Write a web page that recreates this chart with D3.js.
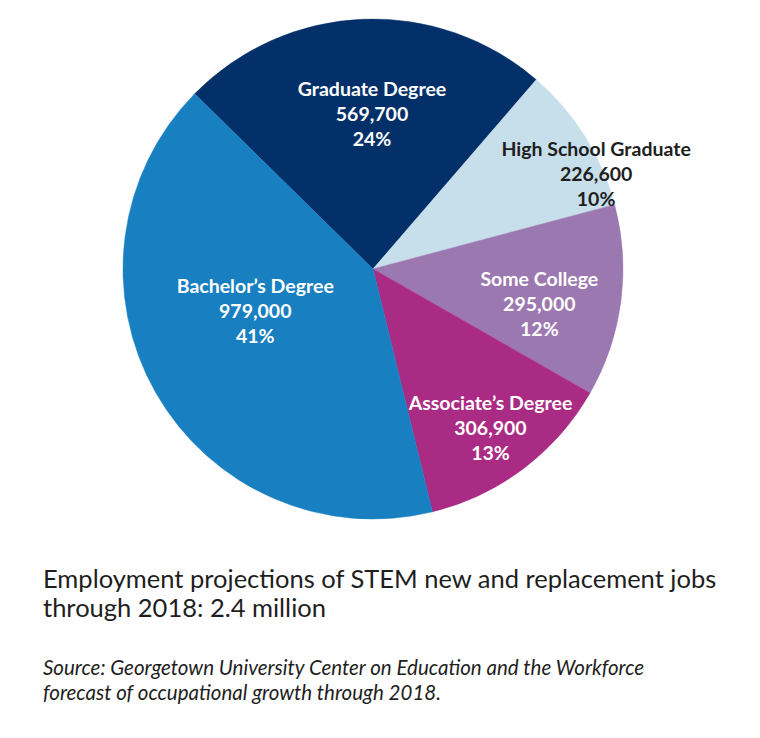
<!DOCTYPE html>
<html>
<head>
<meta charset="utf-8">
<script src="https://cdn.jsdelivr.net/npm/d3@7/dist/d3.min.js"></script>
<style>
  html, body { margin: 0; padding: 0; background: #ffffff; }
  svg { display: block; }
</style>
</head>
<body>
<svg id="chart" width="760" height="738"></svg>
<script>
// ---- Data ----
const categories = ["Graduate Degree", "High School Graduate", "Some College", "Associate\u2019s Degree", "Bachelor\u2019s Degree"];
const values = [569700, 226600, 295000, 306900, 979000];
const percentLabels = ["24%", "10%", "12%", "13%", "41%"];
const captionLines = ["Employment projections of STEM new and replacement jobs", "through 2018: 2.4 million"];
const sourceLines = ["Source: Georgetown University Center on Education and the Workforce", "forecast of occupational growth through 2018."];

// ---- Styles / layout ----
const colors = ["#04306a", "#c7deeb", "#9c78b0", "#aa2b84", "#187fc1"];
const textColors = ["#ffffff", "#1e1e1e", "#ffffff", "#ffffff", "#ffffff"];
// label placement relative to slice: [angle nudge in degrees, radius fraction]
const labelPlacement = [[2, 0.62], [9, 0.97], [4.5, 0.68], [0.5, 0.79], [10, 0.50]];

const W = 760, H = 738;
const cx = 373, cy = 269, R = 250;
const svg = d3.select("#chart");

const data = categories.map((c, i) => ({ name: c, value: values[i], pct: percentLabels[i], i }));

const pie = d3.pie().value(d => d.value).sort(null)
  .startAngle(-45.5 * Math.PI / 180)
  .endAngle((360 - 45.5) * Math.PI / 180);
const arcs = pie(data);
const arc = d3.arc().innerRadius(0).outerRadius(R);

const g = svg.append("g").attr("transform", `translate(${cx},${cy})`);
g.selectAll("path.slice").data(arcs).enter().append("path")
  .attr("class", "slice")
  .attr("d", arc)
  .attr("fill", d => colors[d.data.i])
  .attr("stroke", d => colors[d.data.i])
  .attr("stroke-width", 0.5);

const fmt = d3.format(",");
const lineH = 25;
const labels = g.selectAll("g.lbl").data(arcs).enter().append("g")
  .attr("class", "lbl")
  .attr("transform", d => {
    const [nudge, rf] = labelPlacement[d.data.i];
    const a = (d.startAngle + d.endAngle) / 2 + nudge * Math.PI / 180;
    const r = rf * R;
    return `translate(${r * Math.sin(a)},${-r * Math.cos(a)})`;
  });

labels.each(function(d) {
  const sel = d3.select(this);
  const lines = [d.data.name, fmt(d.data.value), d.data.pct];
  lines.forEach((t, k) => {
    sel.append("text")
      .attr("x", 0)
      .attr("y", (k - 1) * lineH)
      .attr("dy", "0.35em")
      .attr("text-anchor", "middle")
      .attr("font-family", "Lato, 'Open Sans', sans-serif")
      .attr("font-weight", 700)
      .attr("font-size", 19.5)
      .attr("fill", textColors[d.data.i])
      .text(t);
  });
});

// ---- Caption ----
svg.append("g").selectAll("text").data(captionLines).enter().append("text")
  .attr("x", 43)
  .attr("y", (d, i) => 588 + i * 29)
  .attr("font-family", "Lato, 'Open Sans', sans-serif")
  .attr("font-size", 25.5)
  .attr("fill", "#1e1e1e")
  .text(d => d);

svg.append("g").selectAll("text").data(sourceLines).enter().append("text")
  .attr("x", 43)
  .attr("y", (d, i) => 675 + i * 25)
  .attr("font-family", "Lato, 'Open Sans', sans-serif")
  .attr("font-style", "italic")
  .attr("font-size", 20.5)
  .attr("fill", "#1e1e1e")
  .text(d => d);
</script>
</body>
</html>
